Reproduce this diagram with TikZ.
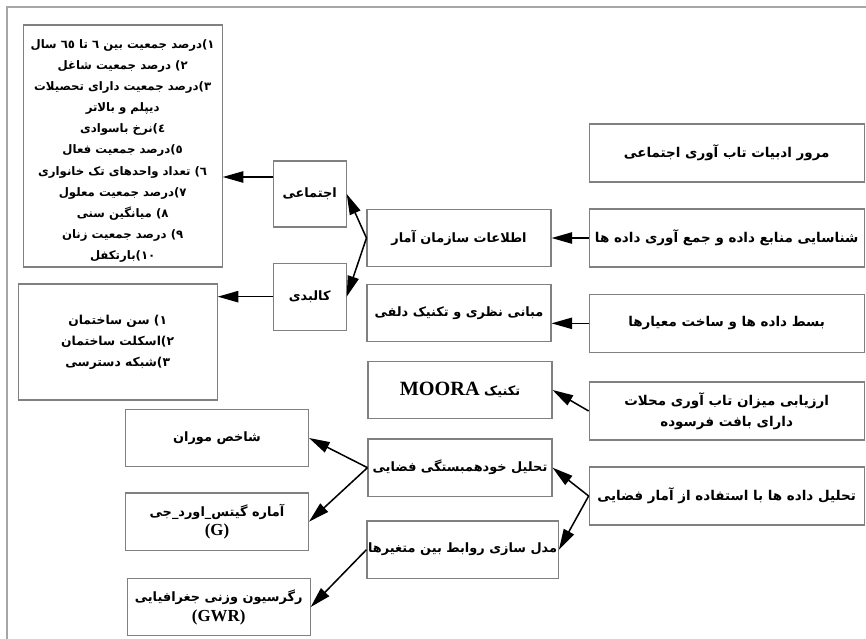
\documentclass[tikz,border=0pt]{standalone}
\usepackage{fontspec}
\setmainfont{Liberation Serif}
\newfontfamily\farsi[Script=Arabic]{DejaVu Sans}
\TeXXeTstate=1
\usetikzlibrary{arrows.meta}

\newcommand{\fatext}[1]{\beginR #1\endR}

\tikzset{
  box/.style={draw=gray, line width=0.9pt, align=center, inner sep=1pt,
    font=\farsi\bfseries\fontsize{11}{17}\selectfont},
  rbox/.style={box, minimum width=8.25cm, minimum height=1.74cm,
    font=\farsi\bfseries\fontsize{11.5}{18}\selectfont},
  mbox/.style={box, minimum width=5.52cm, minimum height=1.72cm},
  bbox/.style={box, minimum width=5.49cm, minimum height=1.72cm},
  arr/.style={line width=1.3pt, -{Triangle[length=0.62cm,width=0.34cm]}},
  frame/.style={draw=gray!70, line width=1.6pt}
}

\begin{document}
\begin{tikzpicture}
      \useasboundingbox (0,0) rectangle (25.98,-19.17);
      \draw[frame] (25.98,-0.21) -- (0.21,-0.21) -- (0.21,-19.17);

      % right column
      \node[rbox] (r1) at (21.8,-4.59) {\fatext{مرور ادبیات تاب آوری اجتماعی}};
      \node[rbox] (r2) at (21.8,-7.14) {\fatext{شناسایی منابع داده و جمع آوری داده ها}};
      \node[rbox] (r3) at (21.8,-9.7) {\fatext{بسط داده ها و ساخت معیارها}};
      \node[rbox] (r4) at (21.8,-12.33) {\fatext{ارزیابی میزان تاب آوری محلات}\\ \fatext{دارای بافت فرسوده}};
      \node[rbox] (r5) at (21.8,-14.88) {\fatext{تحلیل داده ها با استفاده از آمار فضایی}};

      % middle column
      \node[mbox] (m1) at (13.77,-7.14) {\fatext{اطلاعات سازمان آمار}};
      \node[mbox] (m2) at (13.77,-9.39) {\fatext{مبانی نظری و تکنیک دلفی}};
      \node[mbox] (m3) at (13.8,-11.7) {\fatext{تکنیک {\rmfamily\LARGE MOORA}}};
      \node[mbox] (m4) at (13.8,-14.03) {\fatext{تحلیل خودهمبستگی فضایی}};
      \node[mbox] (m5) at (13.88,-16.49) {\fatext{مدل سازی روابط بین متغیرها}};

      % indicators
      \node[box, minimum width=2.19cm, minimum height=1.98cm] (c1) at (9.29,-5.82) {\fatext{اجتماعی}};
      \node[box, minimum width=2.19cm, minimum height=2.01cm] (c2) at (9.29,-8.9) {\fatext{کالبدی}};
      \node[box, minimum width=5.97cm, minimum height=7.26cm,
        font=\farsi\bfseries\fontsize{10}{18}\selectfont] (l1) at (3.68,-4.38) {%
        \rule{0pt}{16pt}\fatext{١)درصد جمعیت بین ٦ تا ٦٥ سال}\\
        \fatext{٢) درصد جمعیت شاغل}\\
        \fatext{٣)درصد جمعیت دارای تحصیلات}\\
        \fatext{دیپلم و بالاتر}\\
        \fatext{٤)نرخ باسوادی}\\
        \fatext{٥)درصد جمعیت فعال}\\
        \fatext{٦) تعداد واحدهای تک خانواری}\\
        \fatext{٧)درصد جمعیت معلول}\\
        \fatext{٨) میانگین سنی}\\
        \fatext{٩) درصد جمعیت زنان}\\
        \fatext{١٠)بارتکفل}};
      \node[box, minimum width=5.97cm, minimum height=3.48cm,
        font=\farsi\bfseries\fontsize{10.5}{18}\selectfont] (l2) at (3.53,-10.26) {%
        \fatext{١) سن ساختمان}\\
        \fatext{٢)اسکلت ساختمان}\\
        \fatext{٣)شبکه دسترسی}};

      % spatial statistics
      \node[bbox] (b1) at (6.51,-13.14) {\fatext{شاخص موران}};
      \node[bbox] (b2) at (6.51,-15.65) {\fatext{آماره گیتس\_اورد\_جی}\\ {\rmfamily\Large (G)}};
      \node[bbox] (b3) at (6.56,-18.21) {\fatext{رگرسیون وزنی جغرافیایی}\\ {\rmfamily\Large (GWR)}};

      \draw[arr] (r2.west) -- (r2.west -| m1.east);
      \draw[arr] (r3.west) -- (r3.west -| m2.east);
      \draw[arr] (r4.west) -- (m3.east);
      \draw[arr] (r5.west) -- (m4.east);
      \draw[arr] (r5.west) -- (m5.east);
      \draw[arr] (m1.west) -- (c1.east);
      \draw[arr] (m1.west) -- (c2.east);
      \draw[arr] (m4.west) -- (b1.east);
      \draw[arr] (m4.west) -- (b2.east);
      \draw[arr] (m5.west) -- (b3.east);
      \coordinate (c1in) at ([yshift=0.51cm]c1.west);
      \draw[arr] (c1in) -- (c1in -| l1.east);
      \draw[arr] (c2.west) -- (c2.west -| l2.east);
    \end{tikzpicture}
\end{document}
